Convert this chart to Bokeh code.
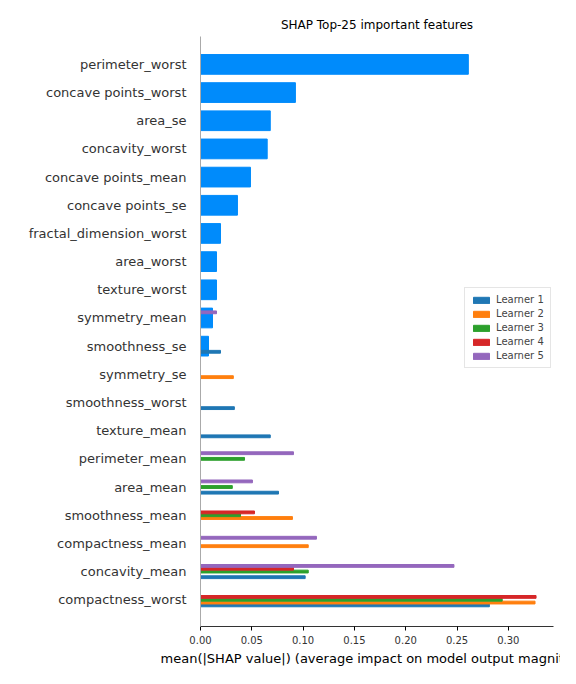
import math
from bokeh.plotting import figure
from bokeh.models import Legend, LegendItem, Label, FixedTicker, ColumnDataSource
from bokeh.embed import file_html
from bokeh.resources import INLINE

features = ["perimeter_worst", "concave points_worst", "area_se", "concavity_worst",
            "concave points_mean", "concave points_se", "fractal_dimension_worst", "area_worst",
            "texture_worst", "symmetry_mean", "smoothness_se", "symmetry_se", "smoothness_worst",
            "texture_mean", "perimeter_mean", "area_mean", "smoothness_mean", "compactness_mean",
            "concavity_mean", "compactness_worst"]
shap_mean = [0.261, 0.0925, 0.068, 0.065, 0.0487, 0.036, 0.0195, 0.0156, 0.0156, 0.0117, 0.0078,
             0, 0, 0, 0, 0, 0, 0, 0, 0]
learner1 = [0, 0, 0, 0, 0, 0, 0, 0, 0, 0, 0.0195, 0, 0.033, 0.068, 0, 0.076, 0, 0, 0.102, 0.2815]
learner2 = [0, 0, 0, 0, 0, 0, 0, 0, 0, 0, 0, 0.032, 0, 0, 0, 0, 0.0896, 0.105, 0, 0.326]
learner3 = [0, 0, 0, 0, 0, 0, 0, 0, 0, 0, 0, 0, 0, 0, 0.0429, 0.031, 0.039, 0, 0.105, 0.294]
learner4 = [0, 0, 0, 0, 0, 0, 0, 0, 0, 0, 0, 0, 0, 0, 0, 0, 0.0526, 0, 0.0906, 0.327]
learner5 = [0, 0, 0, 0, 0, 0, 0, 0, 0, 0.0156, 0, 0, 0, 0, 0.0906, 0.0506, 0, 0.113, 0.247, 0]
learner_names = ["Learner 1", "Learner 2", "Learner 3", "Learner 4", "Learner 5"]
learner_colors = ["#1f77b4", "#ff7f0e", "#2ca02c", "#d62728", "#9467bd"]
xticks = [0.0, 0.05, 0.10, 0.15, 0.20, 0.25, 0.30]

n = len(features)
ypos = [n - 1 - i for i in range(n)]

p = figure(width=560, height=668, output_backend="svg", toolbar_location=None,
           x_range=(0, 0.344), y_range=(-0.95, 19.99),
           min_border_left=200, min_border_right=7, min_border_top=36, min_border_bottom=38)
p.title.text = "SHAP Top-25 important features"
p.title.align = "center"
p.title.text_font = "DejaVu Sans"
p.title.text_font_size = "12px"
p.title.text_font_style = "normal"
p.title.text_color = "#000000"
p.grid.visible = False
p.outline_line_color = None

p.hbar(y=ypos, right=shap_mean, left=0, height=0.7, color="#008bfb")

items = []
for k, (vals, name, col) in enumerate(zip([learner1, learner2, learner3, learner4, learner5],
                                          learner_names, learner_colors)):
    off = -0.2 + 0.1 * k
    src = ColumnDataSource(dict(y=[yy + off for yy in ypos], right=vals))
    r = p.hbar(y="y", right="right", left=0, height=0.1, color=col, source=src)
    items.append(LegendItem(label=name, renderers=[r]))

leg = Legend(items=items, location=(264, 258), label_text_font="DejaVu Sans",
             label_text_font_size="10px", glyph_width=20, glyph_height=8,
             label_height=10, spacing=3, padding=6, margin=0,
             border_line_color="#cccccc", background_fill_alpha=0.8)
p.add_layout(leg, "center")

p.xaxis.ticker = FixedTicker(ticks=xticks)
p.xaxis.major_label_overrides = {t: f"{t:.2f}" for t in xticks}
p.xaxis.axis_label = "mean(|SHAP value|) (average impact on model output magnitude)"
p.xaxis.axis_label_text_font = "DejaVu Sans"
p.xaxis.axis_label_text_font_size = "13px"
p.xaxis.axis_label_text_font_style = "normal"
p.xaxis.axis_label_text_color = "#000000"
p.xaxis.axis_label_standoff = 4
p.xaxis.major_label_text_font = "DejaVu Sans"
p.xaxis.major_label_text_font_size = "10px"
p.xaxis.major_label_text_color = "#333333"
p.xaxis.minor_tick_line_color = None
p.xaxis.major_tick_in = 0
p.xaxis.major_tick_out = 4
p.xaxis.axis_line_color = "#333333"

p.yaxis.ticker = FixedTicker(ticks=ypos)
p.yaxis.major_label_overrides = {yy: f for yy, f in zip(ypos, features)}
p.yaxis.major_label_text_font = "DejaVu Sans"
p.yaxis.major_label_text_font_size = "13px"
p.yaxis.major_label_text_color = "#333333"
p.yaxis.major_tick_line_color = None
p.yaxis.minor_tick_line_color = None
p.yaxis.major_label_standoff = 8
p.yaxis.axis_line_color = "#aaaaaa"

p.add_layout(Label(x=-175, y=297, x_units="screen", y_units="screen", text="feature",
                   angle=math.pi / 2, text_font="DejaVu Sans", text_font_size="9px",
                   text_color="#000000", text_align="center", text_baseline="middle"))

open("out.html", "w").write(file_html(p, INLINE))
